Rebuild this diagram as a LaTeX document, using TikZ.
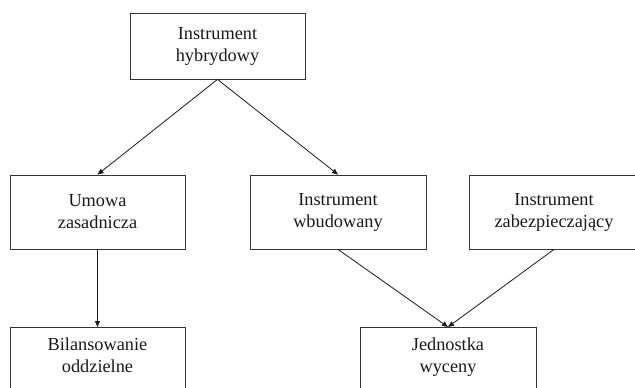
\documentclass[tikz,border=0pt]{standalone}
\usepackage{fontspec}
\setmainfont{Liberation Serif}
\usetikzlibrary{arrows.meta}
\definecolor{ink}{HTML}{1A1A1A}
\definecolor{frame}{HTML}{333333}
\tikzset{
  box/.style={draw=frame, line width=0.8pt, align=center, text=ink,
    font=\fontsize{18.3}{22}\selectfont, inner sep=5pt},
  openbox/.style={box, anchor=north, inner ysep=10pt, text depth=52pt},
  link/.style={draw=ink, line width=0.8pt, -{Triangle[length=6pt,width=5pt]}}
}
\begin{document}
\begin{tikzpicture}[x=1pt,y=-1pt]
  \path[use as bounding box, clip] (0,0) rectangle (635,388);
  \fill[white] (0,0) rectangle (635,388);

  % upper boxes
  \node[box, minimum width=175pt, minimum height=66pt] (hyb) at (217.5,46) {Instrument\\hybrydowy};
  \node[box, minimum width=175pt, minimum height=74pt] (umo) at (97.5,212) {Umowa\\zasadnicza};
  \node[box, minimum width=176pt, minimum height=74pt] (wbu) at (338,212) {Instrument\\wbudowany};
  \node[box, minimum width=170pt, minimum height=74pt] (zab) at (554,212) {Instrument\\zabezpieczający};

  % lower boxes, running past the lower edge
  \node[openbox, minimum width=175pt] (bil) at (97.5,327) {Bilansowanie\\oddzielne};
  \node[openbox, minimum width=176pt] (jed) at (448,327) {Jednostka\\wyceny};

  % connectors
  \draw[link] (hyb.south) -- (umo.north);
  \draw[link] (hyb.south) -- (wbu.north);
  \draw[link] (umo.south) -- (bil.north);
  \draw[link] (wbu.south) -- (jed.north);
  \draw[link] (zab.south) -- (jed.north);
\end{tikzpicture}
\end{document}
